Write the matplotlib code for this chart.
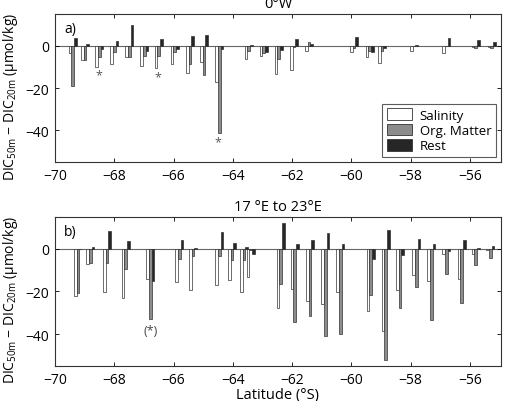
import numpy as np
import matplotlib
matplotlib.use("Agg")
import matplotlib.pyplot as plt
from matplotlib.patches import Patch

plt.rcParams['font.family'] = ['Open Sans', 'DejaVu Sans']
plt.rcParams['mathtext.default'] = 'regular'

# panel a) 0 W : station latitudes and the three contributions (umol/kg)
lat_a = np.array([-69.40, -68.99, -68.50, -68.00, -67.49, -66.98, -66.50, -65.96,
                  -65.45, -64.97, -64.46, -63.46, -62.96, -62.45, -61.94, -61.43,
                  -59.91, -59.38, -58.97, -57.88, -56.79, -55.81, -55.27])
sal_a = [-3.5, -6.7, -9.9, -8.8, -5.5, -9.7, -10.5, -8.6, -13.0, -7.7, -17.1, -6.4,
         -5.0, -13.4, -11.3, -2.7, -3.1, -5.3, -8.0, -2.6, -3.6, -0.5, -0.5]
org_a = [-19.0, -6.7, -5.5, -3.1, -5.3, -5.0, -4.9, -2.8, -8.4, -13.9, -41.3, -2.6,
         -3.4, -6.1, -0.5, 1.9, -1.0, -2.5, -2.3, -0.3, -0.3, -0.9, -1.0]
rest_a = [3.8, 0.8, -1.7, 2.2, 9.9, -2.7, 3.1, -1.5, 4.8, 5.2, -1.5, 0.3,
          -3.0, -1.8, 3.0, 0.8, 4.1, -2.8, -1.0, 0.2, 3.6, 2.7, 1.9]
star_a = [2, 6, 10]

# panel b) 17E to 23E
lat_b = np.array([-69.22, -68.81, -68.24, -67.61, -66.78, -65.80, -65.34, -64.46,
                  -64.03, -63.62, -63.40, -62.39, -61.91, -61.39, -60.88, -60.37,
                  -59.35, -58.84, -58.36, -57.81, -57.30, -56.79, -56.28, -55.81,
                  -55.31, -54.78])
sal_b = [-22.0, -7.0, -20.2, -22.9, -14.0, -15.5, -19.1, -17.1, -14.4, -20.4, -13.2,
         -27.6, -18.7, -24.5, -25.7, -20.2, -29.3, -38.7, -19.4, -12.4, -15.2, -2.2,
         -14.1, -2.5, -0.5, -1.0]
org_b = [-20.8, -6.6, -6.6, -9.2, -32.7, -4.5, -3.4, -3.3, -5.0, -5.3, -0.3,
         -16.3, -34.4, -31.7, -40.9, -40.2, -21.5, -52.4, -27.7, -17.9, -33.6, -11.6,
         -25.4, -7.7, -4.4, -6.0]
rest_b = [0.0, 1.1, 8.2, 3.8, -15.2, 4.4, 0.5, 7.8, 2.8, 0.9, -2.2, 12.2, 2.5, 4.1,
          7.7, 2.5, -4.5, 8.8, -3.0, 4.9, 2.2, -1.0, 4.1, 0.3, 1.4, 0.0]
star_b = [4]

W = 0.09
C_SAL, C_ORG, C_REST = 'white', '#8c8c8c', '#262626'
EDGE = '#333333'


def draw_panel(ax, lat, sal, org, rest, title, tag):
    ax.axhline(0, color='#666666', lw=0.8, zorder=1)
    ax.bar(lat - W, sal, W, color=C_SAL, edgecolor=EDGE, lw=0.5, zorder=2)
    ax.bar(lat, org, W, color=C_ORG, edgecolor=EDGE, lw=0.5, zorder=2)
    ax.bar(lat + W, rest, W, color=C_REST, edgecolor=EDGE, lw=0.5, zorder=2)
    ax.set_xlim(-70, -54.95)
    ax.set_ylim(-55, 15)
    ax.set_xticks(np.arange(-70, -55, 2))
    ax.set_yticks([-40, -20, 0])
    ax.tick_params(direction='in', top=True, right=True, labelsize=10,
                   length=3, width=0.6, pad=4)
    for s in ax.spines.values():
        s.set_linewidth(0.8)
        s.set_color('#333333')
    ax.set_title(title, fontsize=10.5, pad=5)
    ax.text(0.02, 0.95, tag, transform=ax.transAxes, ha='left', va='top', fontsize=10)
    ax.set_ylabel('DIC$_{50m}$ − DIC$_{20m}$ (µmol/kg)', fontsize=10)
    ax.yaxis.set_label_coords(-0.078, 0.45)


fig = plt.figure(figsize=(5.06, 4.02), dpi=100)
ax1 = fig.add_axes([0.1087, 0.5945, 0.8814, 0.368])
ax2 = fig.add_axes([0.1087, 0.0871, 0.8814, 0.3706])

draw_panel(ax1, lat_a, sal_a, org_a, rest_a, '0°W', 'a)')
draw_panel(ax2, lat_b, sal_b, org_b, rest_b, '17 °E to 23°E', 'b)')

for i in star_a:
    low = min(sal_a[i], org_a[i], rest_a[i])
    ax1.text(lat_a[i] - 0.03, low - 4.0, '*', ha='center', va='center',
             fontsize=9, color='#555555')
for i in star_b:
    low = min(sal_b[i], org_b[i], rest_b[i])
    ax2.text(lat_b[i], low - 5.6, '(*)', ha='center', va='center',
             fontsize=9, color='#444444')

handles = [Patch(facecolor=C_SAL, edgecolor=EDGE, lw=0.6, label='Salinity'),
           Patch(facecolor=C_ORG, edgecolor=EDGE, lw=0.6, label='Org. Matter'),
           Patch(facecolor=C_REST, edgecolor=EDGE, lw=0.6, label='Rest')]
leg = ax1.legend(handles=handles, loc='lower right', bbox_to_anchor=(0.989, 0.034),
                 fontsize=9.5, frameon=True, fancybox=False, handlelength=1.9,
                 handleheight=1.0, labelspacing=0.15, borderpad=0.35,
                 handletextpad=0.6, borderaxespad=0)
leg.get_frame().set_edgecolor('#333333')
leg.get_frame().set_linewidth(0.8)

ax2.set_xlabel('Latitude (°S)', fontsize=10.5, labelpad=0)

fig.savefig('out.png', dpi=100)
